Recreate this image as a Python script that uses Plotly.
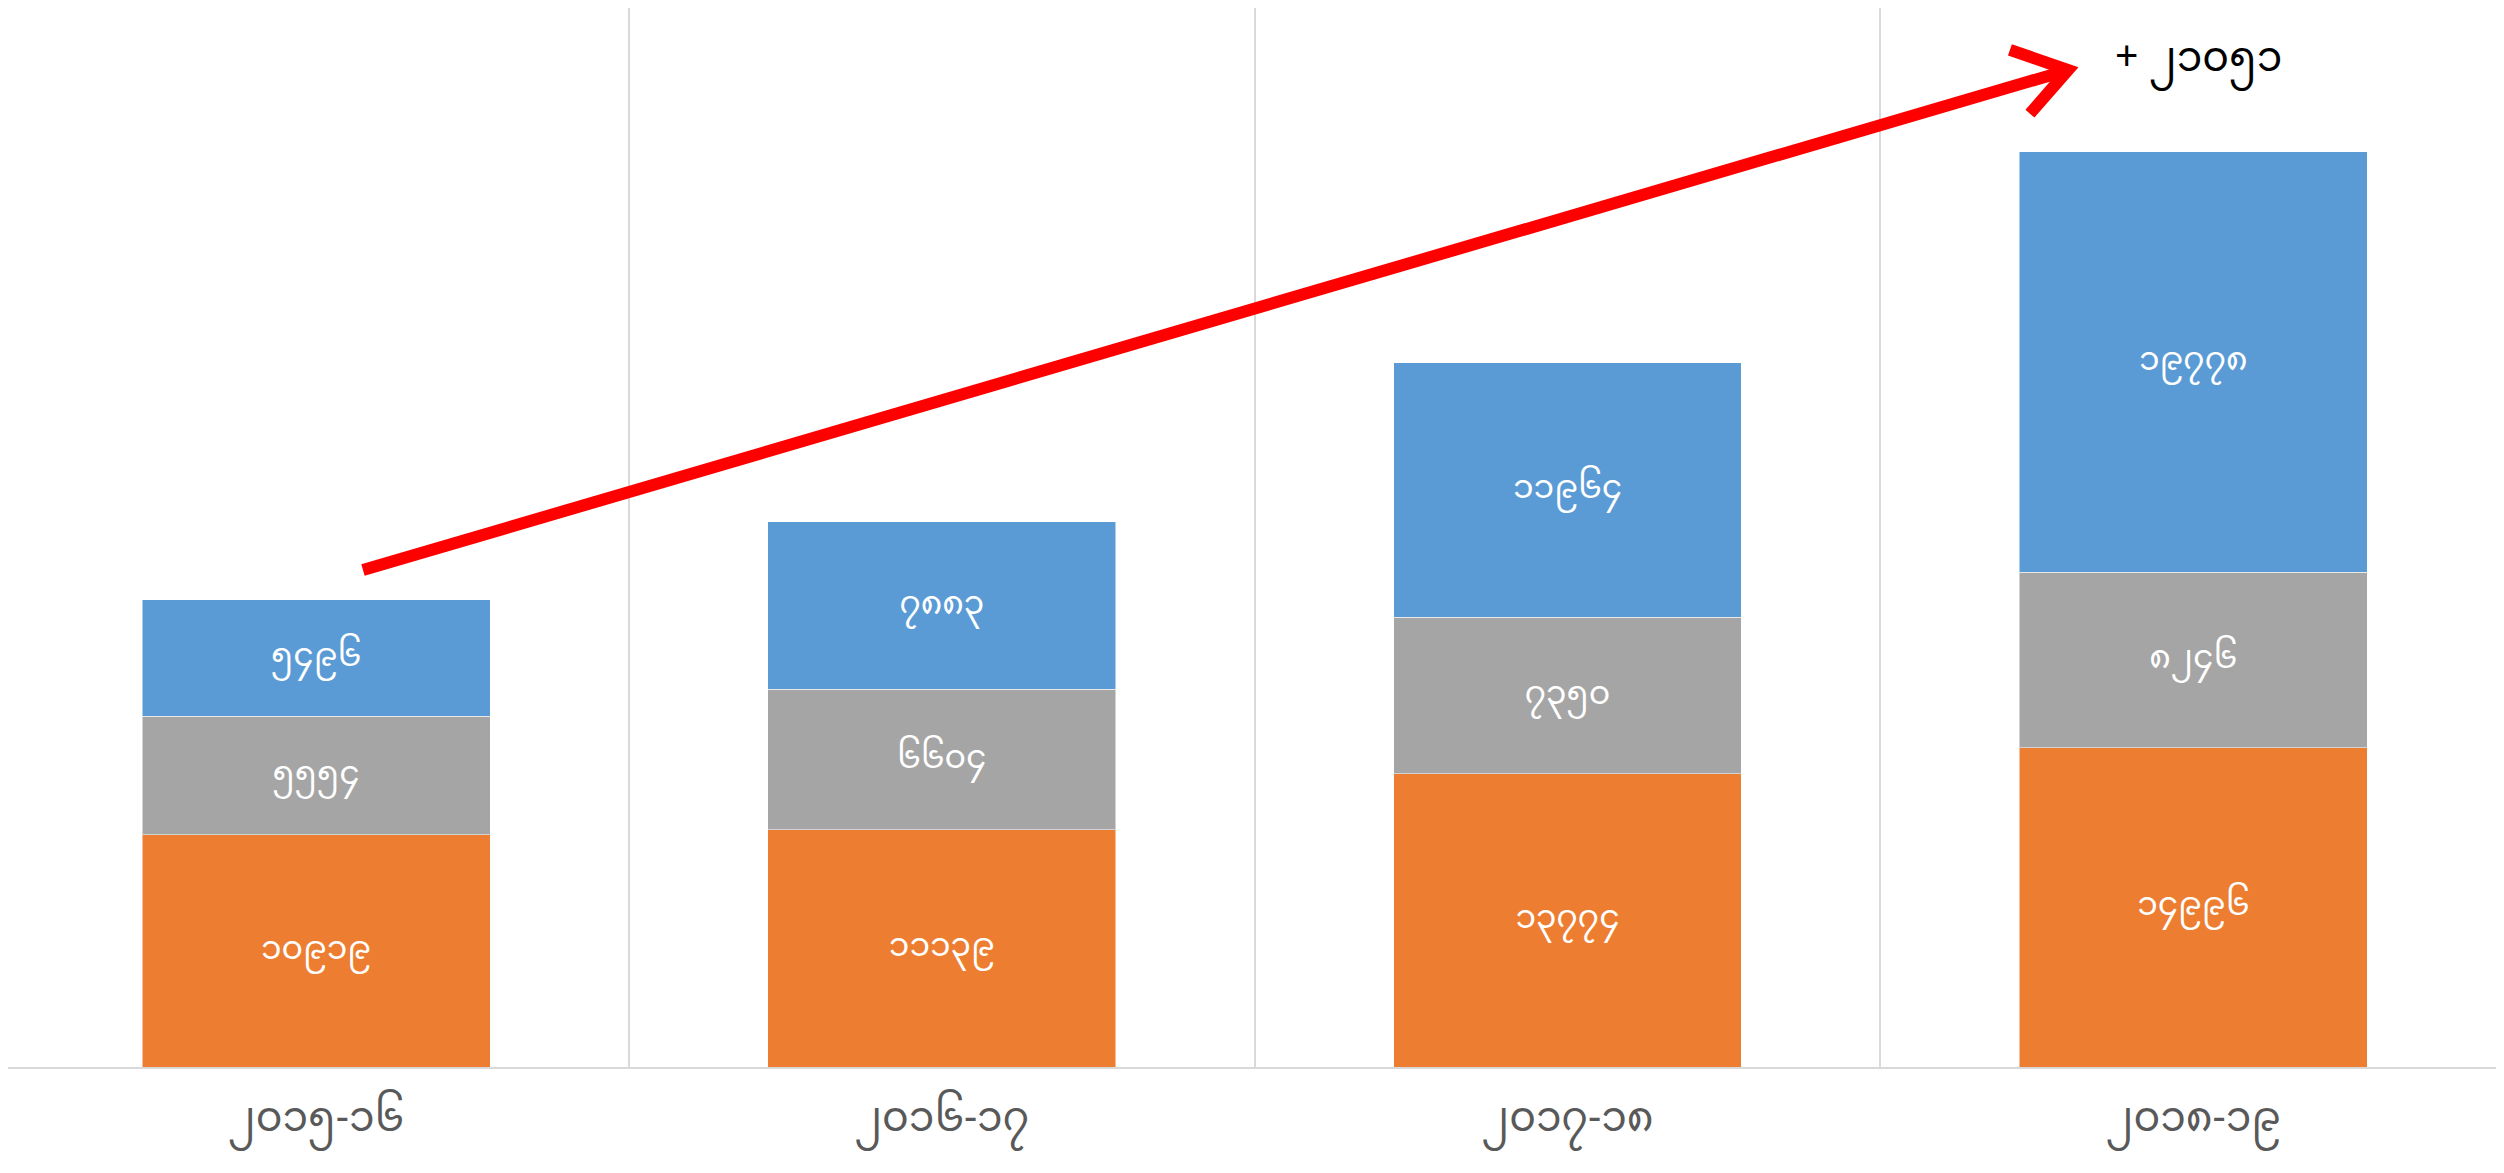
import plotly.graph_objects as go

MM_DIGITS = "၀၁၂၃၄၅၆၇၈၉"


def to_mm(n):
    return "".join(MM_DIGITS[int(c)] for c in str(n))


years = ["၂၀၁၅-၁၆", "၂၀၁၆-၁၇", "၂၀၁၇-၁၈", "၂၀၁၈-၁၉"]
orange_vals = [10919, 11139, 13774, 14996]
grey_vals = [5554, 6604, 7350, 8246]
blue_vals = [5496, 7883, 11964, 19778]

totals = [o + g + b for o, g, b in zip(orange_vals, grey_vals, blue_vals)]
growth = totals[-1] - totals[0]

FONT = "Noto Sans Myanmar, Padauk, Myanmar Text, sans-serif"
RED = "#FF0000"
GRID = "#D9D9D9"

fig = go.Figure()
for vals, color in [(orange_vals, "#ED7D31"), (grey_vals, "#A5A5A5"), (blue_vals, "#5B9BD5")]:
    fig.add_trace(go.Bar(
        x=years, y=vals, marker=dict(color=color, line=dict(color="rgba(255,255,255,0.5)", width=1)),
        text=[to_mm(v) for v in vals], textposition="inside", insidetextanchor="middle",
        textfont=dict(color="white", size=33, family=FONT), showlegend=False,
        constraintext="none", hoverinfo="skip",
    ))

# trend arrow: from just above the first total up past the last one
fig.add_shape(type="line", xref="x", yref="y", x0=0.075, y0=23355, x1=2.79, y1=46760,
              line=dict(color=RED, width=12))
fig.add_shape(type="path", xref="x", yref="y",
              path="M 2.707,47800 L 2.800,46850 L 2.739,44800",
              line=dict(color=RED, width=12))
fig.add_annotation(x=3.008, y=47250, xref="x", yref="y", text="+ " + to_mm(growth),
                   showarrow=False, font=dict(size=41, color="black", family=FONT))

# page body adds an 8px margin round the figure, so the figure is drawn smaller
fig.update_layout(
    barmode="stack", bargap=0.444, template="plotly_white",
    width=2488, height=1157, margin=dict(l=0, r=0, t=0, b=98),
    plot_bgcolor="white", paper_bgcolor="white",
    xaxis=dict(tickson="boundaries", showgrid=True, gridcolor=GRID, gridwidth=1.5,
               showline=True, linecolor=GRID, linewidth=1.5, ticks="",
               range=[-0.4923, 3.4838], automargin=False,
               tickfont=dict(size=41, color="#595959", family=FONT), ticklabelstandoff=13),
    yaxis=dict(range=[0, 49765], showgrid=False, zeroline=False, showticklabels=False,
               ticks="", showline=True, linecolor=GRID, linewidth=1.5, automargin=False),
)
fig.write_html("out.html")
